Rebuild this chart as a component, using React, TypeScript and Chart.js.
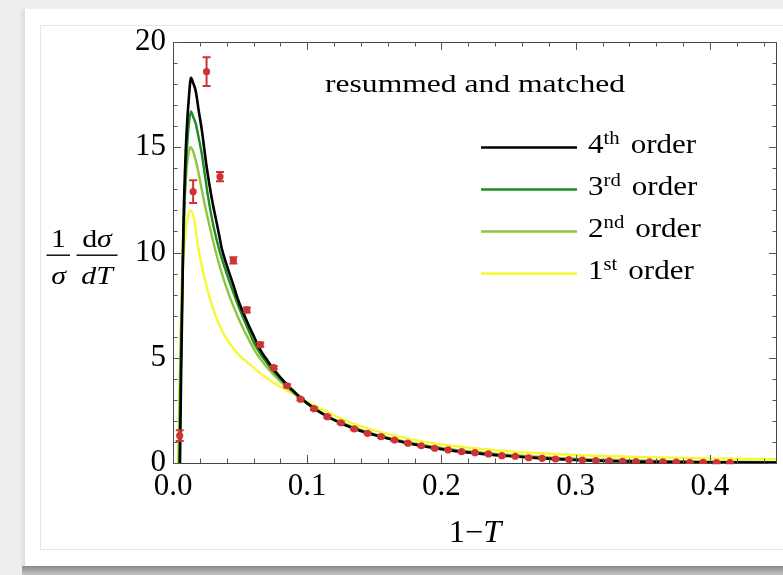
import React, { useEffect, useRef } from 'react';
import { Chart, registerables } from 'chart.js';

Chart.register(...registerables);

// ---------- text / labels ----------
const X_TICK_LABELS = ['0.0', '0.1', '0.2', '0.3', '0.4'];
const Y_TICK_LABELS = ['0', '5', '10', '15', '20'];
const TITLE = 'resummed and matched';
const SERIES_ORDINALS = ['4', '3', '2', '1'];
const SERIES_SUFFIXES = ['th', 'rd', 'nd', 'st'];
const SERIES_WORD = 'order';
const SERIES_COLORS = ['#000000', '#1e8c1e', '#8cc63c', '#f8f830'];
const POINT_COLOR = '#cc3535';

// ---------- measured data (1-T, 1/sigma dsigma/dT, error) ----------
const DATA_X = [
  0.005, 0.015, 0.025, 0.035, 0.045, 0.055, 0.065, 0.075, 0.085, 0.095,
  0.105, 0.115, 0.125, 0.135, 0.145, 0.155, 0.165, 0.175, 0.185, 0.195,
  0.205, 0.215, 0.225, 0.235, 0.245, 0.255, 0.265, 0.275, 0.285, 0.295,
  0.305, 0.315, 0.325, 0.335, 0.345, 0.355, 0.365, 0.375, 0.385, 0.395,
  0.405, 0.415,
];
const DATA_Y = [
  1.3, 12.89, 18.59, 13.6, 9.63, 7.27, 5.62, 4.53, 3.67, 3.03,
  2.58, 2.2, 1.91, 1.62, 1.41, 1.25, 1.09, 0.94, 0.82, 0.7,
  0.62, 0.54, 0.49, 0.43, 0.35, 0.32, 0.25, 0.22, 0.19, 0.16,
  0.14, 0.11, 0.1, 0.08, 0.07, 0.06, 0.05, 0.04, 0.03, 0.03,
  0.02, 0.02,
];
const DATA_ERR = [
  0.25, 0.54, 0.68, 0.22, 0.15, 0.12, 0.1, 0.08, 0.07, 0.06,
  0.06, 0.05, 0.05, 0.05, 0.04, 0.04, 0.04, 0.04, 0.04, 0.04,
  0.03, 0.03, 0.03, 0.03, 0.03, 0.03, 0.03, 0.03, 0.03, 0.03,
  0.03, 0.03, 0.03, 0.03, 0.03, 0.03, 0.03, 0.03, 0.03, 0.03,
  0.03, 0.03,
];

// ---------- theory curves ----------
const ORDER4_X = [0.0052, 0.006, 0.007, 0.0077, 0.009, 0.0102, 0.012, 0.0134, 0.015, 0.017, 0.019, 0.0214, 0.025, 0.0288, 0.0337, 0.0363, 0.04, 0.045, 0.0486, 0.055, 0.06, 0.0648, 0.07, 0.075, 0.084, 0.09, 0.095, 0.104, 0.115, 0.125, 0.134, 0.145, 0.155, 0.175, 0.2, 0.225, 0.25, 0.275, 0.3, 0.325, 0.35, 0.375, 0.4, 0.45];
const ORDER4_Y = [0, 4, 8, 11, 14, 15.8, 17.5, 18.3, 18.05, 17.65, 16.8, 15.85, 14.1, 12.6, 11.05, 10.2, 9.4, 8.45, 7.73, 6.75, 6.05, 5.4, 4.9, 4.45, 3.78, 3.4, 3.1, 2.64, 2.2, 1.9, 1.65, 1.42, 1.25, 0.94, 0.66, 0.47, 0.33, 0.22, 0.14, 0.09, 0.06, 0.04, 0.03, 0.02];

const ORDER3_X = [0.0048, 0.0058, 0.007, 0.0085, 0.01, 0.0115, 0.0134, 0.015, 0.017, 0.019, 0.0214, 0.026, 0.03, 0.035, 0.04, 0.045, 0.05, 0.055, 0.06, 0.065, 0.07, 0.075, 0.085, 0.095, 0.105, 0.115, 0.125, 0.135, 0.15, 0.175, 0.2, 0.225, 0.25, 0.3, 0.35, 0.4, 0.45];
const ORDER3_Y = [0, 4.5, 8.5, 12.2, 14.5, 15.9, 16.7, 16.45, 16.1, 15.5, 14.7, 12.7, 11.3, 10.0, 9.0, 8.1, 7.25, 6.5, 5.75, 5.2, 4.75, 4.35, 3.68, 3.1, 2.62, 2.22, 1.92, 1.66, 1.34, 0.95, 0.67, 0.48, 0.34, 0.15, 0.07, 0.04, 0.03];

const ORDER2_X = [0.0042, 0.0055, 0.007, 0.0085, 0.01, 0.0115, 0.013, 0.015, 0.018, 0.0226, 0.026, 0.03, 0.035, 0.04, 0.045, 0.05, 0.055, 0.06, 0.065, 0.07, 0.075, 0.085, 0.095, 0.105, 0.115, 0.125, 0.135, 0.15, 0.175, 0.2, 0.225, 0.25, 0.3, 0.35, 0.4, 0.45];
const ORDER2_Y = [0, 5, 9.5, 12.3, 13.8, 14.7, 15.0, 14.8, 14.1, 12.6, 11.6, 10.5, 9.3, 8.3, 7.45, 6.7, 6.05, 5.45, 4.95, 4.55, 4.2, 3.58, 3.05, 2.6, 2.22, 1.93, 1.68, 1.37, 0.99, 0.72, 0.52, 0.38, 0.2, 0.11, 0.06, 0.04];

const ORDER1_X = [0.0038, 0.0045, 0.0057, 0.007, 0.0082, 0.01, 0.0115, 0.0134, 0.016, 0.0189, 0.022, 0.025, 0.03, 0.035, 0.04, 0.046, 0.05, 0.055, 0.06, 0.065, 0.07, 0.08, 0.09, 0.097, 0.11, 0.12, 0.131, 0.15, 0.175, 0.2, 0.25, 0.3, 0.35, 0.4, 0.45];
const ORDER1_Y = [0, 2, 6.2, 8.8, 10.1, 11.3, 11.8, 12.0, 11.5, 10.2, 9.2, 8.4, 7.3, 6.5, 5.88, 5.35, 5.08, 4.8, 4.53, 4.27, 4.03, 3.62, 3.27, 3.02, 2.58, 2.27, 1.95, 1.55, 1.16, 0.88, 0.56, 0.38, 0.28, 0.22, 0.18];

const SERIF = '"Liberation Serif", "Times New Roman", serif';

function zip(xs: number[], ys: number[]) {
  return xs.map((x, i) => ({ x, y: ys[i] }));
}

function drawText(
  ctx: CanvasRenderingContext2D,
  s: string,
  x: number,
  y: number,
  size: number,
  opts: { italic?: boolean; align?: CanvasTextAlign; sx?: number } = {}
): number {
  const sx = opts.sx ?? 1;
  ctx.save();
  ctx.font = `${opts.italic ? 'italic ' : ''}${size}px ${SERIF}`;
  ctx.textAlign = opts.align ?? 'left';
  ctx.textBaseline = 'alphabetic';
  ctx.fillStyle = '#000';
  const w = ctx.measureText(s).width * sx;
  ctx.translate(x, y);
  ctx.scale(sx, 1);
  ctx.fillText(s, 0, 0);
  ctx.restore();
  return w;
}

function textWidth(ctx: CanvasRenderingContext2D, s: string, size: number, italic = false) {
  ctx.save();
  ctx.font = `${italic ? 'italic ' : ''}${size}px ${SERIF}`;
  const w = ctx.measureText(s).width;
  ctx.restore();
  return w;
}

const backgroundPlugin = {
  id: 'pageBackground',
  beforeDraw(chart: any) {
    const ctx: CanvasRenderingContext2D = chart.ctx;
    const W = chart.width;
    const H = chart.height;
    ctx.save();
    ctx.fillStyle = '#eeeeee';
    ctx.fillRect(0, 0, W, H);
    const gl = ctx.createLinearGradient(19, 0, 25, 0);
    gl.addColorStop(0, '#eeeeee');
    gl.addColorStop(1, '#dcdcdc');
    ctx.fillStyle = gl;
    ctx.fillRect(19, 9, 6, 557);
    ctx.fillStyle = '#ffffff';
    ctx.fillRect(25, 9, W - 25, 557);
    const gb = ctx.createLinearGradient(0, 566, 0, H);
    gb.addColorStop(0, '#8a8a8a');
    gb.addColorStop(1, '#c4c4c4');
    ctx.fillStyle = gb;
    ctx.fillRect(22, 566, W - 22, H - 566);
    ctx.strokeStyle = '#e6e6e6';
    ctx.lineWidth = 1;
    ctx.strokeRect(40.5, 25.5, W, 524);
    ctx.restore();
  },
};

const framePlugin = {
  id: 'mathFrame',
  afterDatasetsDraw(chart: any) {
    const ctx: CanvasRenderingContext2D = chart.ctx;
    const { left, right, top, bottom } = chart.chartArea;
    const xs = chart.scales.x;
    const ys = chart.scales.y;
    ctx.save();
    ctx.strokeStyle = '#444444';
    ctx.lineWidth = 1;
    ctx.strokeRect(Math.round(left) + 0.5, Math.round(top) + 0.5, Math.round(right - left) - 1, Math.round(bottom - top));
    ctx.strokeStyle = '#555555';
    ctx.beginPath();
    for (let k = 0; k <= 22; k++) {
      const v = k * 0.02;
      const major = k % 5 === 0;
      const len = major ? 8 : 4.5;
      const px = Math.round(xs.getPixelForValue(v)) + 0.5;
      ctx.moveTo(px, bottom);
      ctx.lineTo(px, bottom - len);
      ctx.moveTo(px, top);
      ctx.lineTo(px, top + len);
    }
    for (let k = 0; k <= 20; k++) {
      const major = k % 5 === 0;
      const len = major ? 8 : 4.5;
      const py = Math.round(ys.getPixelForValue(k)) + 0.5;
      ctx.moveTo(left, py);
      ctx.lineTo(left + len, py);
      ctx.moveTo(right, py);
      ctx.lineTo(right - len, py);
    }
    ctx.stroke();
    ctx.restore();
  },
};

const errorBarPlugin = {
  id: 'errorBars',
  afterDatasetsDraw(chart: any) {
    const ctx: CanvasRenderingContext2D = chart.ctx;
    const xs = chart.scales.x;
    const ys = chart.scales.y;
    ctx.save();
    ctx.strokeStyle = POINT_COLOR;
    ctx.lineWidth = 2;
    ctx.beginPath();
    DATA_X.forEach((x, i) => {
      const px = xs.getPixelForValue(x);
      const y1 = ys.getPixelForValue(DATA_Y[i] - DATA_ERR[i]);
      const y2 = ys.getPixelForValue(DATA_Y[i] + DATA_ERR[i]);
      ctx.moveTo(px, y1);
      ctx.lineTo(px, y2);
      ctx.moveTo(px - 4, y1);
      ctx.lineTo(px + 4, y1);
      ctx.moveTo(px - 4, y2);
      ctx.lineTo(px + 4, y2);
    });
    ctx.stroke();
    ctx.restore();
  },
};

const annotationPlugin = {
  id: 'annotations',
  afterDraw(chart: any) {
    const ctx: CanvasRenderingContext2D = chart.ctx;
    const titleSize = 25;
    const tw = textWidth(ctx, TITLE, titleSize);
    drawText(ctx, TITLE, 475, 92, titleSize, { align: 'center', sx: 300 / tw });

    const legendY = [147, 189, 231, 273];
    SERIES_ORDINALS.forEach((ord, i) => {
      const ly = legendY[i];
      ctx.save();
      ctx.strokeStyle = SERIES_COLORS[i];
      ctx.lineWidth = 2.5;
      ctx.beginPath();
      ctx.moveTo(481, ly + 0.5);
      ctx.lineTo(577, ly + 0.5);
      ctx.stroke();
      ctx.restore();
      let x = 588;
      const base = ly + 6;
      x += drawText(ctx, ord, x, base, 27, { sx: 1.15 });
      x += drawText(ctx, SERIES_SUFFIXES[i], x, base - 9, 18, { sx: 1.15 });
      x += 11;
      drawText(ctx, SERIES_WORD, x, base, 27, { sx: 1.15 });
    });

    {
      const size = 31;
      const sx = 1.05;
      const w1 = textWidth(ctx, '1\u2212', size) * sx;
      const w2 = textWidth(ctx, 'T', size, true) * sx;
      const start = 475 - (w1 + w2) / 2;
      drawText(ctx, '1\u2212', start, 542, size, { sx });
      drawText(ctx, 'T', start + w1, 542, size, { italic: true, sx });
    }

    {
      const size = 26;
      const sx = 1.15;
      ctx.save();
      ctx.fillStyle = '#000';
      ctx.fillRect(46.5, 254.5, 23.5, 1.4);
      ctx.fillRect(76.5, 254.5, 41, 1.4);
      ctx.restore();
      drawText(ctx, '1', 58.5, 247, size, { align: 'center', sx });
      drawText(ctx, '\u03C3', 58.5, 284, size, { align: 'center', italic: true, sx });
      const wd = textWidth(ctx, 'd', size) * sx;
      const ws = textWidth(ctx, '\u03C3', size, true) * sx;
      const s1 = 97 - (wd + ws) / 2;
      drawText(ctx, 'd', s1, 247, size, { sx });
      drawText(ctx, '\u03C3', s1 + wd, 247, size, { italic: true, sx });
      const wdi = textWidth(ctx, 'd', size, true) * sx;
      const wT = textWidth(ctx, 'T', size, true) * sx;
      const s2 = 97 - (wdi + wT) / 2;
      drawText(ctx, 'd', s2, 284, size, { italic: true, sx });
      drawText(ctx, 'T', s2 + wdi, 284, size, { italic: true, sx });
    }
  },
};

export default function App() {
  const canvasRef = useRef<HTMLCanvasElement | null>(null);

  useEffect(() => {
    document.body.style.margin = '0';
    const canvas = canvasRef.current;
    if (!canvas) return;
    const curve = (xs: number[], ys: number[], color: string, width: number) => ({
      type: 'line' as const,
      data: zip(xs, ys),
      borderColor: color,
      backgroundColor: color,
      borderWidth: width,
      pointRadius: 0,
      showLine: true,
      fill: false,
      cubicInterpolationMode: 'monotone' as const,
    });
    const chart = new Chart(canvas, {
      type: 'scatter',
      data: {
        datasets: [
          {
            type: 'scatter',
            data: zip(DATA_X, DATA_Y),
            backgroundColor: POINT_COLOR,
            borderColor: POINT_COLOR,
            borderWidth: 0,
            pointRadius: 3.6,
            showLine: false,
          } as any,
          curve(ORDER4_X, ORDER4_Y, SERIES_COLORS[0], 2.6),
          curve(ORDER3_X, ORDER3_Y, SERIES_COLORS[1], 2.4),
          curve(ORDER2_X, ORDER2_Y, SERIES_COLORS[2], 2.4),
          curve(ORDER1_X, ORDER1_Y, SERIES_COLORS[3], 2.4),
        ],
      },
      options: {
        responsive: false,
        animation: false,
        devicePixelRatio: 1,
        layout: { padding: { top: 42, right: 6, bottom: 0, left: 0 } },
        plugins: {
          legend: { display: false },
          tooltip: { enabled: false },
        },
        scales: {
          x: {
            type: 'linear',
            min: 0,
            max: 0.45,
            grid: { display: false, drawTicks: false },
            border: { display: false },
            ticks: {
              stepSize: 0.1,
              includeBounds: false,
              autoSkip: false,
              maxRotation: 0,
              padding: 5,
              color: '#000',
              font: { family: SERIF, size: 31 },
              callback: (_v: any, i: number) => X_TICK_LABELS[i],
            },
            afterFit: (s: any) => {
              s.height = 112;
            },
          },
          y: {
            type: 'linear',
            min: 0,
            max: 20,
            grid: { display: false, drawTicks: false },
            border: { display: false },
            ticks: {
              stepSize: 5,
              includeBounds: false,
              padding: 7,
              color: '#000',
              font: { family: SERIF, size: 31 },
              callback: (_v: any, i: number) => Y_TICK_LABELS[i],
            },
            afterFit: (s: any) => {
              s.width = 173;
            },
          },
        },
      } as any,
      plugins: [backgroundPlugin, framePlugin, errorBarPlugin, annotationPlugin],
    });
    return () => chart.destroy();
  }, []);

  return (
    <div style={{ position: 'fixed', left: 0, top: 0, width: 783, height: 575 }}>
      <canvas ref={canvasRef} width={783} height={575} style={{ display: 'block' }} />
    </div>
  );
}
